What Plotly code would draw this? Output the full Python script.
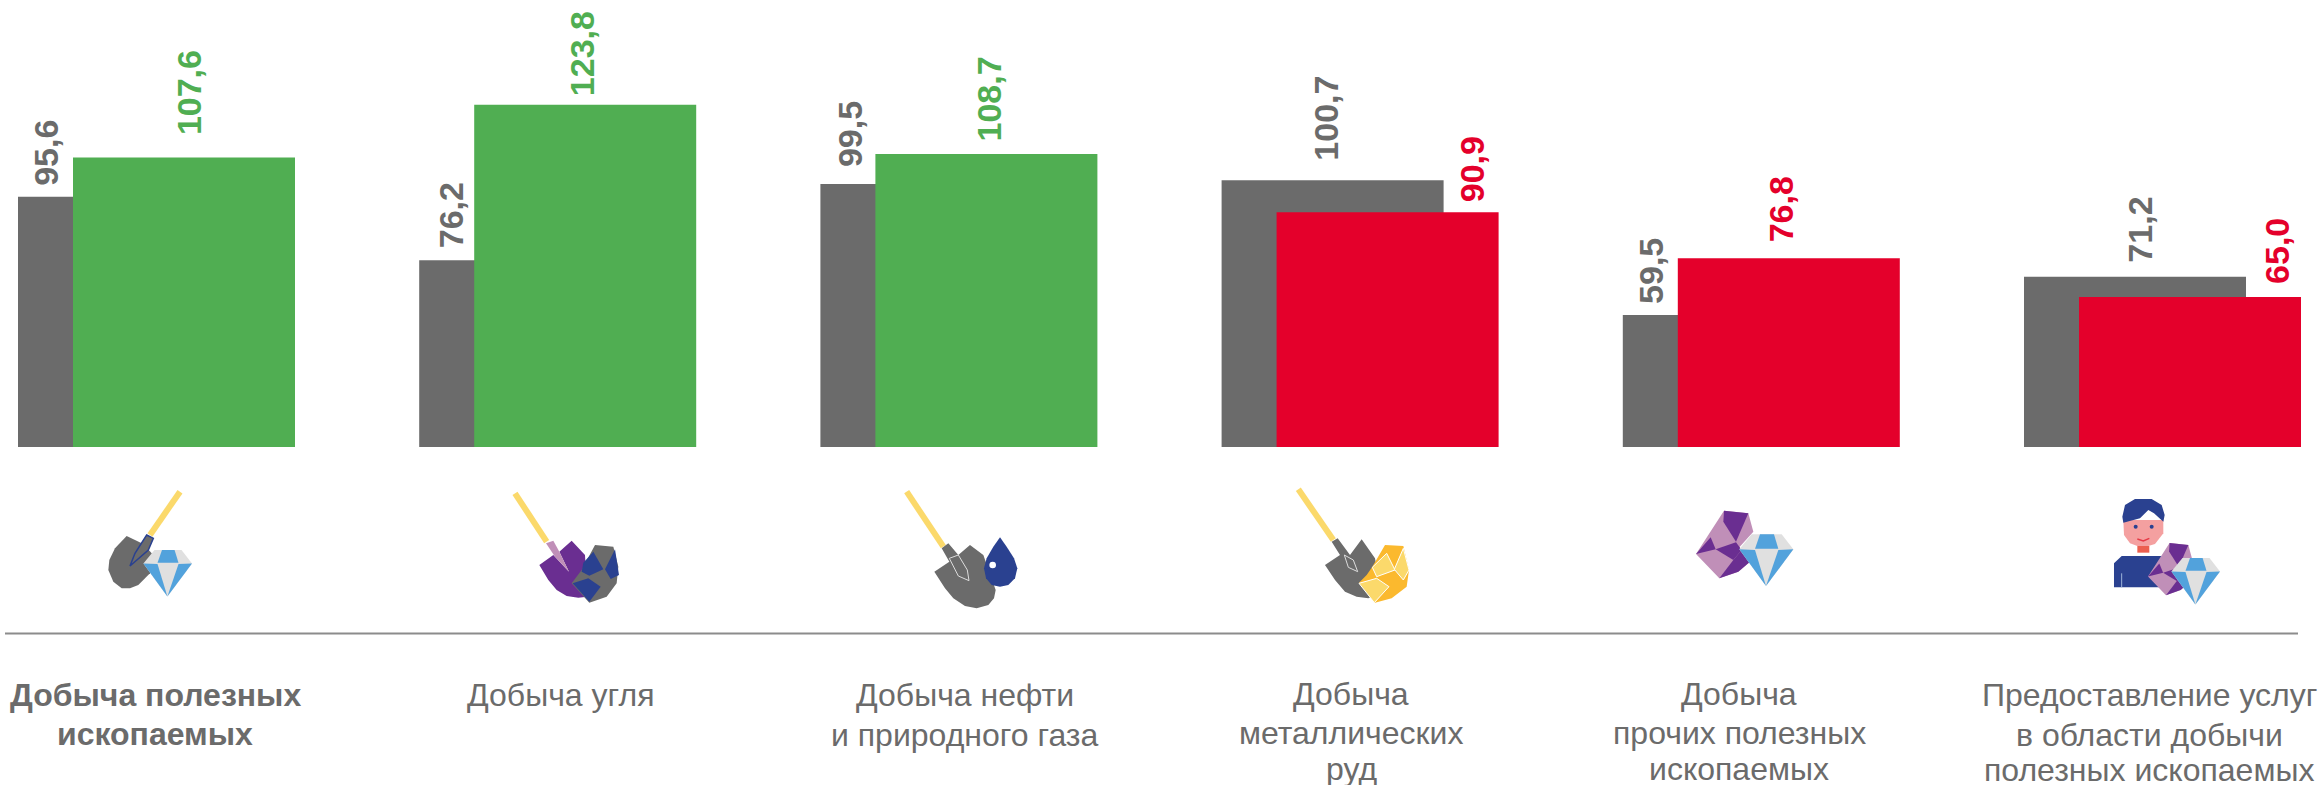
import plotly.graph_objects as go

W, H = 2318, 785

# data
categories = [
    "Добыча полезных ископаемых",
    "Добыча угля",
    "Добыча нефти и природного газа",
    "Добыча металлических руд",
    "Добыча прочих полезных ископаемых",
    "Предоставление услуг в области добычи полезных ископаемых",
]
previous_values = [95.6, 76.2, 99.5, 100.7, 59.5, 71.2]
current_values = [107.6, 123.8, 108.7, 90.9, 76.8, 65.0]
category_lines = [
    ["Добыча полезных", "ископаемых"],
    ["Добыча угля"],
    ["Добыча нефти", "и природного газа"],
    ["Добыча", "металлических", "руд"],
    ["Добыча", "прочих полезных", "ископаемых"],
    ["Предоставление услуг", "в области добычи", "полезных ископаемых"],
]

GRAY = "#6b6b6b"
GREEN = "#50ae52"
RED = "#e4002b"
YELLOW = "#fbd96b"
GOLD = "#fbb92e"
NAVY = "#2a4190"
BLUE = "#52a2dc"
LIGHT = "#e0e0e0"
PURPLE = "#6a2e91"
PINK = "#c08fb8"

current_colors = [GREEN, GREEN, GREEN, RED, RED, RED]

# layout tweaks, in page pixels
UNIT = 401.2
CENTER0 = 156.5
prev_label_x = [46, 451, 850, 1326, 1651, 2140]
prev_label_gap = [11, 12, 17, 19, 11, 14]
curr_label_x = [189, 582, 989, 1472, 1781, 2277]
curr_label_gap = [22, 8, 12, 10, 16, 13]
text_x = [155, 560, 965, 1351, 1739, 2149]
text_y = [
    [695, 734],
    [695],
    [695, 735],
    [694, 733, 769],
    [694, 733, 769],
    [695, 735, 770],
]

fig = go.Figure()

fig.add_trace(go.Bar(x=categories, y=previous_values, width=222 / UNIT, offset=-138.5 / UNIT,
                     marker=dict(color=GRAY, line=dict(width=0)), name="previous"))
fig.add_trace(go.Bar(x=categories, y=current_values, width=222 / UNIT, offset=-83.5 / UNIT,
                     marker=dict(color=current_colors, line=dict(width=0)), name="current"))


def fmt(v):
    return f"{v:.1f}".replace(".", ",")


annotations = []
for i in range(len(categories)):
    center = CENTER0 + UNIT * i
    for val, gap, px, col in [
        (previous_values[i], prev_label_gap[i], prev_label_x[i], GRAY),
        (current_values[i], curr_label_gap[i], curr_label_x[i], current_colors[i]),
    ]:
        annotations.append(dict(x=i, y=val, xref="x", yref="y", text=fmt(val), showarrow=False,
                                textangle=-90, xanchor="center", yanchor="bottom",
                                xshift=px - center, yshift=gap, borderpad=0, borderwidth=0,
                                font=dict(family="Liberation Sans", size=34, color=col, weight="bold")))
    for line, ly in zip(category_lines[i], text_y[i]):
        annotations.append(dict(x=text_x[i] / W, y=1 - ly / H, xref="paper", yref="paper", text=line,
                                showarrow=False, xanchor="center", yanchor="middle",
                                font=dict(family="Liberation Sans", size=32, color=GRAY,
                                          weight="bold" if i == 0 else "normal")))


# icons are plain polygons, in 3x crop coordinates around an origin
def poly(pts, fill, ox, oy, k=1 / 3, line=None, lw=1, closed=True):
    path = ""
    for n, (x, y) in enumerate(pts):
        path += ("M" if n == 0 else "L") + f"{(ox + x * k) / W:.5f},{1 - (oy + y * k) / H:.5f} "
    if closed:
        path += "Z"
    return dict(type="path", path=path, xref="paper", yref="paper", layer="above",
                fillcolor=fill if closed else "rgba(0,0,0,0)",
                line=dict(color=line if line else "rgba(0,0,0,0)", width=lw if line else 0))


def handle(x0, y0, x1, y1, ox, oy):
    return poly([(x0, y0), (x1, y1)], None, ox, oy, line=YELLOW, lw=6, closed=False)


def diamond(ox, oy, k=1 / 3):
    return [
        poly([(215, 133), (305, 133), (340, 178), (258, 288), (178, 178)], LIGHT, ox, oy, k),
        poly([(240, 133), (282, 133), (295, 176), (225, 176)], BLUE, ox, oy, k),
        poly([(178, 178), (225, 180), (258, 288)], BLUE, ox, oy, k),
        poly([(295, 180), (340, 178), (258, 288)], BLUE, ox, oy, k),
    ]


def gem(ox, oy, k=1 / 3):
    return [
        poly([(132, 62), (205, 70), (220, 125), (178, 172), (210, 215), (175, 245), (118, 265), (48, 192)],
             PINK, ox, oy, k),
        poly([(132, 62), (205, 70), (168, 155), (130, 95)], PURPLE, ox, oy, k),
        poly([(48, 192), (92, 142), (107, 178)], PURPLE, ox, oy, k),
        poly([(107, 178), (168, 157), (185, 180), (160, 210)], PURPLE, ox, oy, k),
        poly([(160, 210), (185, 180), (210, 215), (175, 245), (118, 265)], PURPLE, ox, oy, k),
    ]


shapes = [dict(type="line", x0=5 / W, x1=2298 / W, y0=1 - 633.5 / H, y1=1 - 633.5 / H,
               xref="paper", yref="paper", line=dict(color="#8c8c8c", width=2))]

# 1 shovel + diamond
ox, oy = 80, 470
shapes += [
    handle(300, 65, 210, 195, ox, oy),
    poly([(140, 198), (190, 222), (215, 250), (210, 310), (175, 345), (150, 355), (125, 355), (100, 335),
          (85, 300), (88, 270), (105, 235)], GRAY, ox, oy),
    poly([(200, 195), (220, 205), (205, 240), (150, 288), (165, 250)], GRAY, ox, oy, line=NAVY, lw=1.5),
]
shapes += diamond(90, 510, k=0.3)

# 2 shovel + coal
ox, oy = 500, 480
shapes += [
    handle(45, 40, 140, 185, ox, oy),
    poly([(118, 255), (160, 225), (207, 275), (178, 215), (215, 182), (255, 225), (262, 350), (235, 353),
          (200, 348), (170, 330), (145, 300)], PURPLE, ox, oy),
    poly([(138, 190), (160, 182), (178, 215), (207, 275), (165, 230)], PINK, ox, oy),
    poly([(285, 195), (340, 200), (355, 260), (350, 310), (320, 350), (268, 368), (215, 310), (245, 270)],
         GRAY, ox, oy),
    poly([(280, 215), (310, 268), (268, 287), (245, 275), (250, 248)], NAVY, ox, oy),
    poly([(345, 208), (357, 285), (332, 297), (315, 268)], NAVY, ox, oy),
    poly([(218, 310), (265, 295), (302, 320), (268, 365)], NAVY, ox, oy),
]

# 3 shovel + oil drop
ox, oy = 890, 480
shapes += [
    handle(50, 35, 160, 200, ox, oy),
    poly([(133, 275), (178, 245), (155, 205), (175, 190), (205, 225), (240, 195), (280, 225), (317, 330),
          (312, 355), (295, 375), (260, 385), (225, 378), (190, 355), (165, 325)], GRAY, ox, oy),
    poly([(178, 235), (205, 225), (232, 270), (237, 302), (205, 288)], GRAY, ox, oy, line="#dddddd", lw=1),
    poly([(330, 172), (350, 200), (372, 235), (382, 265), (375, 295), (355, 315), (330, 320), (305, 315),
          (288, 295), (282, 265), (290, 235), (310, 200)], NAVY, ox, oy),
    dict(type="circle", xref="paper", yref="paper", layer="above", fillcolor="white", line=dict(width=0),
         x0=(ox + 298 / 3) / W, x1=(ox + 318 / 3) / W, y0=1 - (oy + 265 / 3) / H, y1=1 - (oy + 245 / 3) / H),
]

# 4 shovel + ore
ox, oy = 1285, 480
shapes += [
    handle(40, 28, 145, 180, ox, oy),
    poly([(120, 255), (165, 225), (140, 185), (158, 175), (195, 225), (230, 178), (270, 235), (290, 340),
          (250, 355), (215, 350), (180, 335), (150, 300)], GRAY, ox, oy),
    poly([(178, 225), (205, 240), (218, 275), (190, 262)], GRAY, ox, oy, line="#dddddd", lw=1),
    poly([(300, 195), (355, 198), (372, 270), (365, 320), (320, 355), (270, 368), (222, 308), (245, 285),
          (262, 260)], GOLD, ox, oy),
    poly([(262, 262), (305, 220), (330, 270), (275, 290)], YELLOW, ox, oy, line="white", lw=1),
    poly([(355, 205), (372, 270), (355, 300), (328, 268)], YELLOW, ox, oy, line="white", lw=1),
    poly([(222, 310), (275, 295), (312, 320), (268, 368)], YELLOW, ox, oy, line="white", lw=1),
]

# 5 gem + diamond
shapes += gem(1680, 490)
shapes += diamond(1680, 490)

# 6 person + gem + diamond
ox, oy = 2080, 480
shapes += [
    poly([(102, 322), (102, 250), (125, 228), (250, 228), (250, 322)], NAVY, ox, oy),
    poly([(125, 280), (125, 322)], None, ox, oy, line="#9db4d8", lw=1, closed=False),
    poly([(172, 198), (208, 198), (208, 218), (172, 218)], "#ec5f4f", ox, oy),
    poly([(130, 120), (250, 120), (250, 160), (225, 192), (205, 198), (172, 198), (150, 190), (132, 165)],
         "#f4a0a0", ox, oy),
    poly([(127, 110), (135, 75), (165, 57), (215, 57), (245, 75), (254, 105), (250, 125), (222, 100),
          (205, 90), (180, 115), (130, 128)], NAVY, ox, oy),
    poly([(172, 177), (190, 183), (208, 175)], None, ox, oy, line="#e63946", lw=1.5, closed=False),
]
for ex in (167, 215):
    shapes.append(dict(type="circle", xref="paper", yref="paper", layer="above", fillcolor=NAVY,
                       line=dict(width=0), x0=(ox + (ex - 6) / 3) / W, x1=(ox + (ex + 6) / 3) / W,
                       y0=1 - (oy + 146 / 3) / H, y1=1 - (oy + 134 / 3) / H))
shapes += gem(ox + 68 - 48 * 0.257, oy + 63 - 62 * 0.257, k=0.257)
shapes += diamond(ox + 38, oy + 38, k=0.3)

fig.update_layout(
    width=W, height=H,
    margin=dict(l=0, r=0, t=0, b=0),
    paper_bgcolor="white",
    plot_bgcolor="white",
    showlegend=False,
    barmode="overlay",
    xaxis=dict(visible=False, type="category", categoryorder="array", categoryarray=categories,
               range=[-CENTER0 / UNIT, (W - CENTER0) / UNIT]),
    yaxis=dict(visible=False, range=[19.1, 19.1 + 447 / 3.27], domain=[1 - 447 / H, 1]),
    annotations=annotations,
    shapes=shapes,
)

# the page keeps its default body margin otherwise and everything sits 8px off
fig.write_html("out.html", config=dict(displayModeBar=False),
               post_script="document.body.style.margin='0';")
